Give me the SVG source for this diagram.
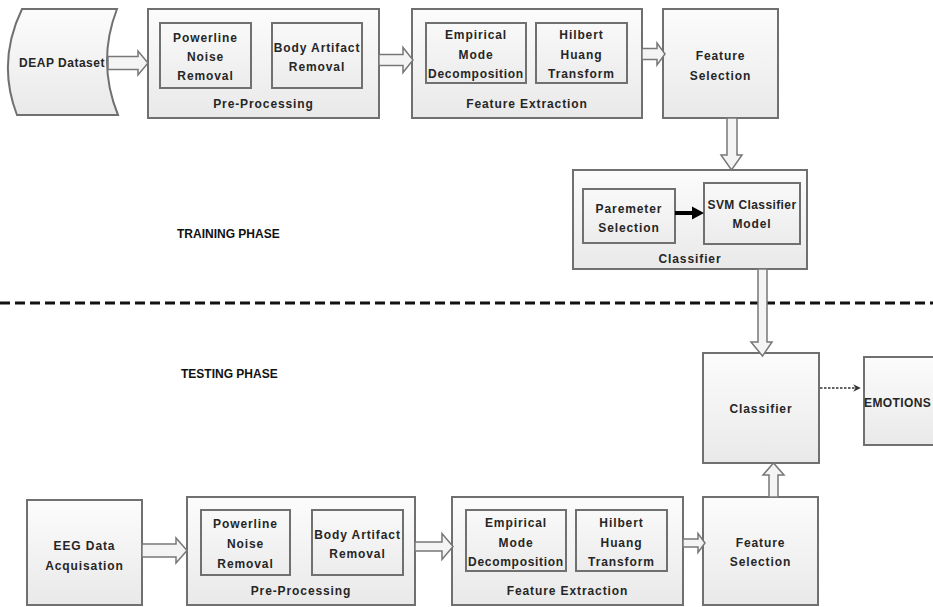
<svg xmlns="http://www.w3.org/2000/svg" width="933" height="607" viewBox="0 0 933 607">
<defs>
<linearGradient id="g" x1="0" y1="0" x2="0" y2="1">
<stop offset="0" stop-color="#fcfcfc"/>
<stop offset="1" stop-color="#e9e9e9"/>
</linearGradient>
<linearGradient id="gi" x1="0" y1="0" x2="0" y2="1">
<stop offset="0" stop-color="#f9f9f9"/>
<stop offset="1" stop-color="#ececec"/>
</linearGradient>
<marker id="ad" viewBox="0 0 10 10" refX="9" refY="5" markerWidth="5" markerHeight="5" orient="auto" markerUnits="strokeWidth">
<path d="M0,0 L10,5 L0,10 L3,5 Z" fill="#333"/>
</marker>
</defs>
<style>
.box{fill:url(#g);stroke:#707070;stroke-width:2}
.in{fill:url(#gi);stroke:#707070;stroke-width:2}
.t{font-family:"Liberation Sans",Arial,sans-serif;font-weight:bold;font-size:12px;letter-spacing:0.9px;fill:#262626;text-anchor:middle}
.ph{font-family:"Liberation Sans",Arial,sans-serif;font-weight:bold;font-size:12px;fill:#111}
.blk{fill:#f4f4f4;stroke:#777;stroke-width:1.5;stroke-linejoin:miter}
</style>

<line x1="0" y1="303" x2="933" y2="303" stroke="#111" stroke-width="3" stroke-dasharray="10 5"/>
<text class="ph" x="177" y="238">TRAINING PHASE</text>
<text class="ph" x="181" y="378">TESTING PHASE</text>

<g id="deap">
<path class="box" d="M22,9 L117,9 Q96.5,62 118,115 L17,115 Q-3.5,62 22,9 Z"/>
<text class="t" x="62" y="67" style="letter-spacing:0.5px">DEAP Dataset</text>
</g>

<g id="preproc-train">
<rect class="box" x="148" y="9" width="231" height="109"/>
<rect class="in" x="160" y="23" width="91" height="65"/>
<text class="t" x="205.5" y="42">Powerline</text>
<text class="t" x="205.5" y="61">Noise</text>
<text class="t" x="205.5" y="80">Removal</text>
<rect class="in" x="272" y="23" width="90" height="65"/>
<text class="t" x="317" y="52">Body Artifact</text>
<text class="t" x="317" y="71">Removal</text>
<text class="t" x="263.5" y="108">Pre-Processing</text>
</g>

<g id="featext-train">
<rect class="box" x="412" y="9" width="230" height="109"/>
<rect class="in" x="426" y="23" width="100" height="60"/>
<text class="t" x="476" y="39">Empirical</text>
<text class="t" x="476" y="59">Mode</text>
<text class="t" x="476" y="78" style="letter-spacing:0.7px">Decomposition</text>
<rect class="in" x="536" y="23" width="91" height="60"/>
<text class="t" x="581.5" y="39">Hilbert</text>
<text class="t" x="581.5" y="59">Huang</text>
<text class="t" x="581.5" y="78">Transform</text>
<text class="t" x="527" y="108">Feature Extraction</text>
</g>

<g id="featsel-train">
<rect class="box" x="663" y="9" width="115" height="109"/>
<text class="t" x="720.5" y="60">Feature</text>
<text class="t" x="720.5" y="80">Selection</text>
</g>

<g id="classifier-train">
<rect class="box" x="573" y="170" width="234" height="99"/>
<rect class="in" x="583" y="189" width="92" height="54"/>
<text class="t" x="629" y="213">Paremeter</text>
<text class="t" x="629" y="232">Selection</text>
<rect class="in" x="704" y="183" width="96" height="61"/>
<text class="t" x="752" y="209" style="letter-spacing:0.4px">SVM Classifier</text>
<text class="t" x="752" y="228">Model</text>
<text class="t" x="690" y="263">Classifier</text>
</g>

<g id="classifier-test">
<rect class="box" x="703" y="353" width="116" height="110"/>
<text class="t" x="761" y="413">Classifier</text>
</g>

<g id="emotions">
<rect class="box" x="864" y="357" width="80" height="88"/>
<text class="t" x="864" y="407" style="text-anchor:start;letter-spacing:0.4px">EMOTIONS</text>
</g>

<g id="eeg">
<rect class="box" x="27" y="500" width="115" height="105"/>
<text class="t" x="84.5" y="550">EEG Data</text>
<text class="t" x="84.5" y="570">Acquisation</text>
</g>

<g id="preproc-test">
<rect class="box" x="187" y="497" width="228" height="108"/>
<rect class="in" x="201" y="510" width="89" height="65"/>
<text class="t" x="245.5" y="528">Powerline</text>
<text class="t" x="245.5" y="548">Noise</text>
<text class="t" x="245.5" y="568">Removal</text>
<rect class="in" x="312" y="510" width="91" height="65"/>
<text class="t" x="357.5" y="539">Body Artifact</text>
<text class="t" x="357.5" y="558">Removal</text>
<text class="t" x="301" y="595">Pre-Processing</text>
</g>

<g id="featext-test">
<rect class="box" x="452" y="497" width="231" height="108"/>
<rect class="in" x="466" y="510" width="100" height="61"/>
<text class="t" x="516" y="527">Empirical</text>
<text class="t" x="516" y="547">Mode</text>
<text class="t" x="516" y="566" style="letter-spacing:0.7px">Decomposition</text>
<rect class="in" x="576" y="510" width="91" height="61"/>
<text class="t" x="621.5" y="527">Hilbert</text>
<text class="t" x="621.5" y="547">Huang</text>
<text class="t" x="621.5" y="566">Transform</text>
<text class="t" x="567.5" y="595">Feature Extraction</text>
</g>

<g id="featsel-test">
<rect class="box" x="703" y="497" width="115" height="108"/>
<text class="t" x="760.5" y="547">Feature</text>
<text class="t" x="760.5" y="566">Selection</text>
</g>

<g id="connectors">
<path class="blk" d="M108,56.5 L138,56.5 L138,51 L148,63 L138,75 L138,69.5 L108,69.5 Z"/>
<path class="blk" d="M379,54.5 L403,54.5 L403,47.5 L413,60 L403,72.5 L403,65.5 L379,65.5 Z"/>
<path class="blk" d="M642,48.5 L657,48.5 L657,43 L665,54 L657,65 L657,59.5 L642,59.5 Z"/>
<path class="blk" d="M727,118 L727,155 L721,155 L731.5,170 L742,155 L737,155 L737,118 Z"/>
<path class="blk" d="M758,269 L758,342 L751,342 L762.5,356 L772,342 L767,342 L767,269 Z"/>
<path class="blk" d="M769,497 L769,475 L763,475 L773.5,463 L784,475 L778,475 L778,497 Z"/>
<path class="blk" d="M142,544 L176,544 L176,538 L187,550.5 L176,563 L176,557 L142,557 Z"/>
<path class="blk" d="M415,542 L442,542 L442,533.5 L453,546.5 L442,559.5 L442,551 L415,551 Z"/>
<path class="blk" d="M683,539 L698,539 L698,533.5 L705,543 L698,552.5 L698,547 L683,547 Z"/>
<path d="M675,211 L692,211 L692,206.5 L704,213 L692,219.5 L692,215 L675,215 Z" fill="#000"/>
<line x1="820" y1="388" x2="860" y2="388" stroke="#333" stroke-width="1.5" stroke-dasharray="2.5 1.5" marker-end="url(#ad)"/>
</g>
</svg>
